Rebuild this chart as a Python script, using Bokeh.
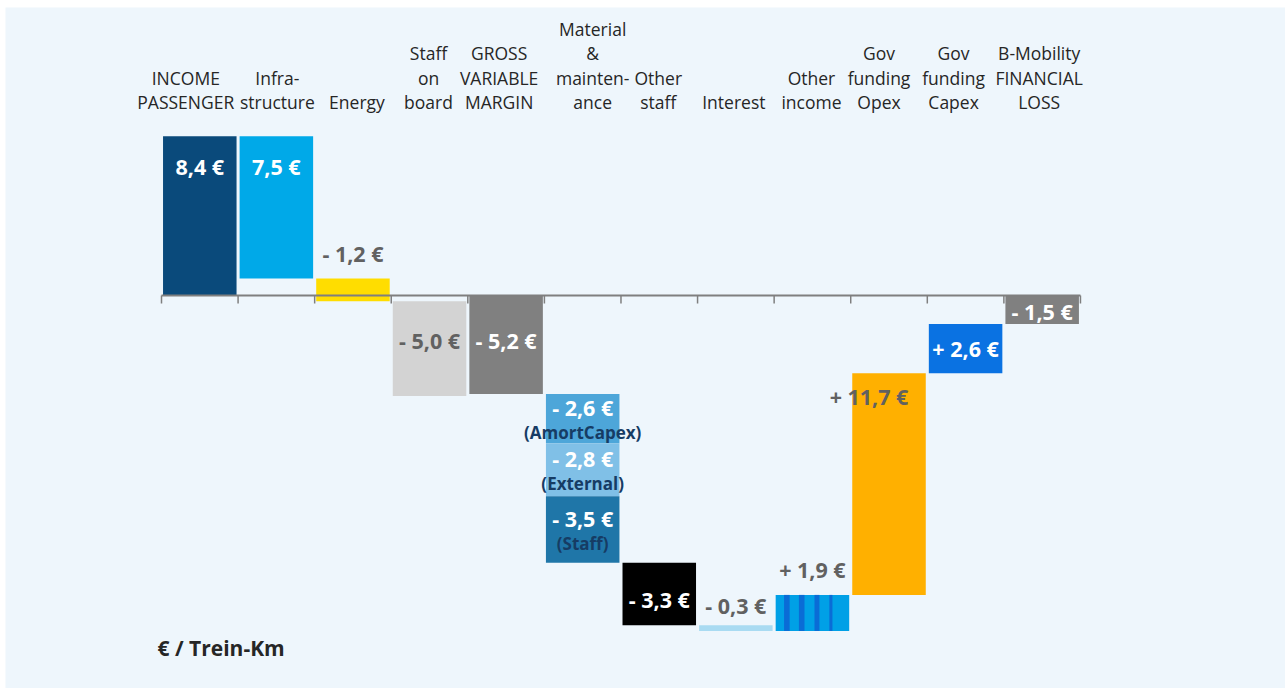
from bokeh.plotting import figure
from bokeh.models import Range1d, ColumnDataSource
from bokeh.core.properties import value
from bokeh.embed import file_html
from bokeh.resources import INLINE

# ---- data (€ per train-km) -------------------------------------------------
categories = [
    "INCOME\nPASSENGER", "Infra-\nstructure", "Energy", "Staff\non\nboard",
    "GROSS\nVARIABLE\nMARGIN", "Material\n&\nmainten-\nance", "Other\nstaff",
    "Interest", "Other\nincome", "Gov\nfunding\nOpex", "Gov\nfunding\nCapex",
    "B-Mobility\nFINANCIAL\nLOSS",
]
# change contributed by each step; the material block is split further below
step_values = [8.4, -7.5, -1.2, -5.0, -5.2, None, -3.3, -0.3, 1.9, 11.7, 2.6, -1.5]
# bars that start from zero instead of from the running level
is_total = [True, False, False, False, True, False, False, False, False, False, False, True]
# whether the value label carries an explicit +/- sign
signed = [False, False, True, True, True, True, True, True, True, True, True, True]

material_parts = ["(AmortCapex)", "(External)", "(Staff)"]
material_values = [-2.6, -2.8, -3.5]
MATERIAL_IDX = 5

unit_label = "€ / Trein-Km"

# ---- styling ---------------------------------------------------------------
bar_colors = ["#0A4A7B", "#00A9E8", "#FFDD00", "#D3D3D3", "#808080", None,
              "#000000", "#A9DBF2", "#00A0E6", "#FFB000", "#0A72E2", "#808080"]
material_colors = ["#4DA6D9", "#80C0E7", "#1F76A8"]
stripe_color = "#0A6CD6"
WHITE, GREY, NAVY, INK = "#FFFFFF", "#616161", "#163C64", "#262626"

# where each value label sits: anchor on the bar, pixel nudges, colour
label_anchor = ["top", "top", "top", "mid", "mid", None, "mid", "top", "top", "top", "mid", "mid"]
label_dy = [30, 30, -25, -8, -4, 0, 6, -20, -25, 23, 0, 2]
label_dx = [0, 0, 0, 0, 0, 0, 0, 0, 0, -20, 0, 0]
label_color = [WHITE, WHITE, GREY, GREY, WHITE, None, WHITE, GREY, GREY, GREY, WHITE, WHITE]
# horizontal nudges of the category headings (px)
cat_dx = [-14, 1, 4, -1, -7, 10, -1, -2, -1, -10, -12, -3]

W, H = 1285, 688
FRAME_LEFT, FRAME_TOP = 5, 7
SLOT_PX = 76.58          # width of one category slot
X0_PX = 161              # left edge of first slot
Y0_PX = 295              # zero line
UNIT_PX = 18.95          # pixels per € unit
BAR_W = 0.96
FONT = "Open Sans"


def euro(v, with_sign):
    s = f"{abs(v):.1f}".replace(".", ",") + " €"
    if with_sign:
        s = ("+ " if v > 0 else "- ") + s
    return s


# ---- waterfall geometry ----------------------------------------------------
step_values[MATERIAL_IDX] = round(sum(material_values), 1)
bottoms, tops = [], []
level = 0.0
for v, tot in zip(step_values, is_total):
    start = 0.0 if tot else level
    end = start + v
    bottoms.append(min(start, end))
    tops.append(max(start, end))
    level = end

x_start = -0.5 - (X0_PX - FRAME_LEFT) / SLOT_PX
x_end = -0.5 + (W - X0_PX) / SLOT_PX
y_end = (Y0_PX - FRAME_TOP) / UNIT_PX
y_start = -(H - Y0_PX) / UNIT_PX

p = figure(width=W, height=H, output_backend="svg", toolbar_location=None,
           x_range=Range1d(x_start, x_end), y_range=Range1d(y_start, y_end),
           min_border_left=FRAME_LEFT, min_border_top=FRAME_TOP,
           min_border_right=0, min_border_bottom=0,
           background_fill_color="#EEF6FC", border_fill_color="#FFFFFF",
           outline_line_color=None)
p.axis.visible = False
p.grid.visible = False

# plain bars
idx = [i for i in range(len(categories)) if i != MATERIAL_IDX]
p.vbar(x=idx, width=BAR_W, bottom=[bottoms[i] for i in idx], top=[tops[i] for i in idx],
       fill_color=[bar_colors[i] for i in idx], line_color=None)

# material block, stacked from its three parts
m_top, m_bot, m_mid = [], [], []
lvl = tops[MATERIAL_IDX]
for v in material_values:
    m_top.append(lvl)
    m_bot.append(lvl + v)
    m_mid.append(lvl + v / 2)
    lvl += v
p.vbar(x=[MATERIAL_IDX] * 3, width=BAR_W, top=m_top, bottom=m_bot,
       fill_color=material_colors, line_color=None)

# vertical stripes on "Other income"
OI = 8
oi_left = OI - BAR_W / 2
stripe_start = [0.114, 0.316, 0.528, 0.73]
stripe_width = [0.076, 0.076, 0.067, 0.042]
p.quad(left=[oi_left + s * BAR_W for s in stripe_start],
       right=[oi_left + (s + w) * BAR_W for s, w in zip(stripe_start, stripe_width)],
       bottom=bottoms[OI], top=tops[OI], fill_color=stripe_color, line_color=None)

# zero line with tick marks at slot boundaries
n = len(categories)
p.segment(x0=-0.5, y0=0, x1=n - 0.5, y1=0, line_color="#7F7F7F", line_width=2)
ticks = [k - 0.5 for k in range(n + 1)]
p.segment(x0=ticks, y0=[0] * len(ticks), x1=ticks, y1=[-8 / UNIT_PX] * len(ticks),
          line_color="#7F7F7F", line_width=1.5)

# value labels
lx, ly, lt, lc, lxo, lyo = [], [], [], [], [], []
for i in idx:
    anchor = tops[i] if label_anchor[i] == "top" else (tops[i] + bottoms[i]) / 2
    lx.append(i)
    ly.append(anchor)
    lt.append(euro(step_values[i], signed[i]))
    lc.append(label_color[i])
    lxo.append(label_dx[i])
    lyo.append(label_dy[i])
for mid, v in zip(m_mid, material_values):
    lx.append(MATERIAL_IDX)
    ly.append(mid)
    lt.append(euro(v, signed[MATERIAL_IDX]))
    lc.append(WHITE)
    lxo.append(0)
    lyo.append(-11)
p.text(x="x", y="y", text="t", text_color="c", x_offset="xo", y_offset="yo",
       source=ColumnDataSource(dict(x=lx, y=ly, t=lt, c=lc, xo=lxo, yo=lyo)),
       text_font=value(FONT), text_font_style="bold", text_font_size="21.5px",
       text_align="center", text_baseline="middle")

p.text(x=[MATERIAL_IDX] * 3, y=m_mid, text=material_parts, y_offset=14,
       text_font=value(FONT), text_font_style="bold", text_font_size="17px",
       text_color=NAVY, text_align="center", text_baseline="middle")

# category headings, bottom-aligned above the bars
hx, ht, hxo, hyo = [], [], [], []
LAST_LINE_PX, LINE_PX = 101.5, 24.5
for i, name in enumerate(categories):
    lines = name.split("\n")
    for k, line in enumerate(lines):
        hx.append(i)
        ht.append(line)
        hxo.append(cat_dx[i])
        hyo.append(LAST_LINE_PX - FRAME_TOP - LINE_PX * (len(lines) - 1 - k))
p.text(x="x", y=y_end, text="t", x_offset="xo", y_offset="yo",
       source=ColumnDataSource(dict(x=hx, t=ht, xo=hxo, yo=hyo)),
       text_font=value(FONT), text_font_size="17.5px", text_color=INK,
       text_align="center", text_baseline="middle")

# unit note
p.text(x=[x_start], y=[y_start], text=[unit_label], x_offset=152, y_offset=-41,
       text_font=value(FONT), text_font_style="bold", text_font_size="21px",
       text_color=INK, text_align="left", text_baseline="middle")

open("out.html", "w").write(file_html(p, INLINE))
